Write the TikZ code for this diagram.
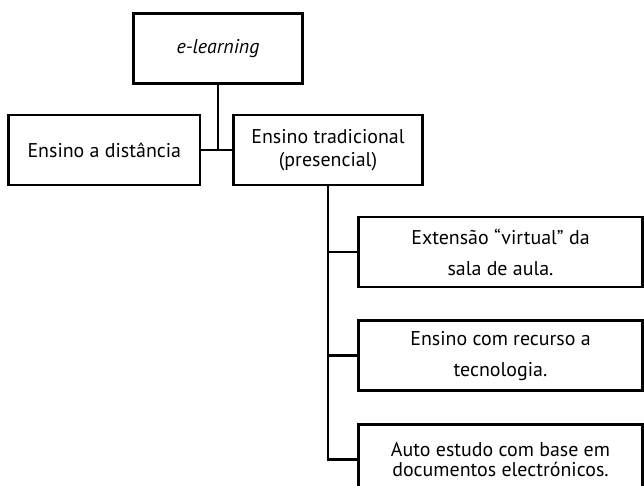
\documentclass[tikz,border=0pt]{standalone}
\usepackage{fontspec}
\setmainfont{PT Sans}
\usetikzlibrary{positioning}
\tikzstyle{box} = [rectangle, draw=black, line width=0.08cm, minimum height=2.1cm, text centered, align=center, inner sep=0pt, font=\fontsize{17}{17}\selectfont]
\tikzstyle{line} = [line width=0.08cm]

\begin{document}
\begin{tikzpicture}[x=0.03cm, y=-0.03cm]
	\clip (0,0) rectangle (644,486);
	\node (el) [box, minimum width=5.05cm, minimum height=2.1cm] at (218,48.5) {\textit{e-learning}};
	\node (et) [box, minimum width=5.65cm] at (328,150) {Ensino tradicional\\[2.6pt](presencial)};
	\node (ead) [box, minimum width=5.75cm, left=0.93cm of et] {Ensino a distância};
	\node (ext) [box, minimum width=8.5cm] at (500.5,252) {Extensão “virtual” da\\[9.5pt]sala de aula.};
	\node (tec) [box, minimum width=8.5cm, below=0.93cm of ext] {Ensino com recurso a\\[9.5pt]tecnologia.};
	\node (auto) [box, minimum width=8.5cm, below=0.93cm of tec] {Auto estudo com base em\\documentos electrónicos.};
	\draw [line] (el.south) -- (el.south |- ead.east);
	\draw [line] (ead) -- (et);
	\foreach \n in {ext,tec,auto}
		\draw [line] (et.south) |- (\n.west);
\end{tikzpicture}
\end{document}
